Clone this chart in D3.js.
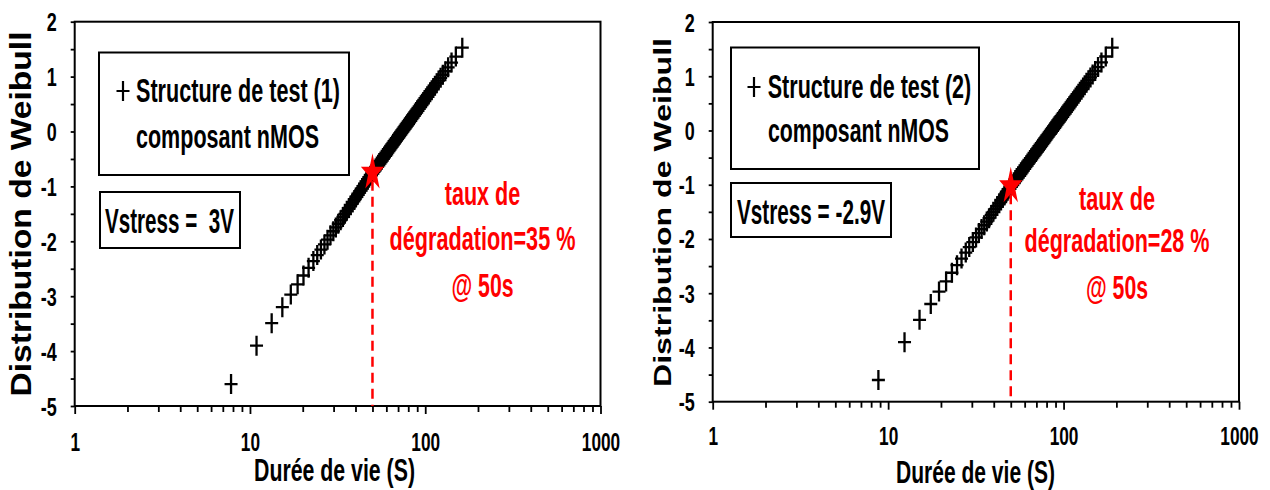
<!DOCTYPE html>
<html><head><meta charset="utf-8">
<script src="https://cdn.jsdelivr.net/npm/d3@7"></script>
<style>
html,body{margin:0;padding:0;background:#fff;}
svg{display:block;}
text{font-family:"Liberation Sans Narrow","Liberation Sans",Arial,sans-serif;font-weight:bold;white-space:pre;}
</style></head><body>
<svg id="chart" width="1270" height="490"></svg>
<script>
// ---------- data ----------
const xTickValues = [1, 10, 100, 1000];
const xTickLabels = ["1", "10", "100", "1000"];
const xMinorTicks = [2,3,4,5,6,7,8,9,20,30,40,50,60,70,80,90,200,300,400,500,600,700,800,900];
const yTickValues = [-5, -4, -3, -2, -1, 0, 1, 2];
const yTickLabels = ["-5", "-4", "-3", "-2", "-1", "0", "1", "2"];
const yMinorTicks = [-4.5, -3.5, -2.5, -1.5, -0.5, 0.5, 1.5];

// Weibull ordinate (same rank positions for both structures)
const weibullY = [-4.600,-3.902,-3.491,-3.199,-2.970,-2.783,-2.623,-2.484,-2.361,-2.250,
 -2.150,-2.057,-1.971,-1.892,-1.817,-1.747,-1.680,-1.617,-1.557,-1.500,
 -1.445,-1.392,-1.342,-1.293,-1.246,-1.200,-1.156,-1.113,-1.071,-1.031,
 -0.991,-0.953,-0.915,-0.878,-0.842,-0.807,-0.772,-0.738,-0.705,-0.672,
 -0.639,-0.607,-0.576,-0.545,-0.514,-0.484,-0.454,-0.425,-0.395,-0.367,
 -0.338,-0.309,-0.281,-0.253,-0.225,-0.197,-0.170,-0.142,-0.115,-0.087,
 -0.060,-0.033,-0.006,0.021,0.049,0.076,0.103,0.131,0.158,0.186,
 0.213,0.241,0.270,0.298,0.327,0.356,0.385,0.415,0.445,0.476,
 0.507,0.539,0.572,0.606,0.640,0.676,0.713,0.752,0.792,0.834,
 0.879,0.927,0.978,1.034,1.097,1.169,1.255,1.364,1.527];

// Lifetime (s) – structure 1 (Vstress = 3V)
const lifetime1 = [7.8,10.9,13.3,15.3,17.1,18.7,20.2,21.6,23.0,24.2,
 25.4,26.6,27.7,28.8,29.9,30.9,31.9,32.9,33.9,34.8,
 35.7,36.7,37.6,38.5,39.4,40.2,41.1,42.0,42.8,43.7,
 44.5,45.3,46.2,47.0,47.8,48.6,49.5,50.3,51.2,52.1,
 53.0,53.9,54.7,55.6,56.5,57.4,58.3,59.2,60.1,61.0,
 61.9,62.8,63.8,64.7,65.6,66.6,67.5,68.5,69.5,70.5,
 71.5,72.5,73.5,74.6,75.7,76.7,77.8,78.9,80.0,81.2,
 82.4,83.6,84.8,86.1,87.4,88.7,90.0,91.4,92.9,94.4,
 95.9,97.5,99.2,101.0,102.8,104.7,106.7,108.9,111.2,113.6,
 116.3,119.2,122.4,126.0,130.2,135.1,141.3,149.5,162.7];

// Lifetime (s) – structure 2 (Vstress = -2.9V)
const lifetime2 = [8.8,12.4,15.1,17.5,19.5,21.4,23.1,24.7,26.2,27.7,
 29.0,30.4,31.7,32.9,34.1,35.3,36.5,37.6,38.7,39.8,
 40.9,41.9,43.0,44.0,45.0,46.0,47.0,48.0,49.0,50.0,
 51.0,52.1,53.1,54.1,55.1,56.2,57.2,58.2,59.2,60.3,
 61.3,62.3,63.3,64.4,65.4,66.5,67.5,68.5,69.6,70.6,
 71.7,72.8,73.9,74.9,76.1,77.2,78.3,79.4,80.5,81.7,
 82.9,84.0,85.2,86.4,87.7,88.9,90.2,91.5,92.8,94.2,
 95.5,96.9,98.4,99.9,101.4,102.9,104.5,106.1,107.8,109.6,
 111.3,113.2,115.2,117.2,119.3,121.6,123.9,126.5,129.2,132.0,
 135.1,138.6,142.3,146.5,151.4,157.2,164.4,174.0,189.4];

const seriesNames = ["Structure de test (1)", "Structure de test (2)"];
const componentLabel = "composant nMOS";
const stressLabels = ["Vstress =  3V", "Vstress = -2.9V"];
const rateLines1 = ["taux de", "dégradation=35 %", "@ 50s"];
const rateLines2 = ["taux de", "dégradation=28 %", "@ 50s"];
const markerX = [50, 50];
const markerY = [-0.75, -1.03];
const xTitle = "Durée de vie (S)";
const yTitle = "Distribution de Weibull";

// ---------- layout ----------
const panels = [
  { x0: 74.7, x1: 600.5, yTop: 21.7, yBot: 406, life: lifetime1, name: seriesNames[0], stress: stressLabels[0],
    rate: rateLines1, mx: markerX[0], my: markerY[0],
    legBox: [99, 52.5, 250, 122.5], plus: [123, 91], l1: [136, 90, 204], l2: [136, 136, 183],
    vBox: [100, 192, 140, 56], vText: [105, 220, 129],
    red: { cx: 482.5, ys: [193, 238, 285], lens: [75.6, 186, 62] },
    yT: { x: 20.5, y: 214, len: 365, fs: 29 }, xT: { cx: 334.5, y: 470, len: 161 }, labOff: 36 },
  { x0: 712.7, x1: 1239, yTop: 22, yBot: 401.7, life: lifetime2, name: seriesNames[1], stress: stressLabels[1],
    rate: rateLines2, mx: markerX[1], my: markerY[1],
    legBox: [731, 47.5, 248, 121.5], plus: [754, 87], l1: [767.7, 86, 203.6], l2: [768, 130, 181],
    vBox: [731, 183, 160, 54], vText: [737, 211, 148],
    red: { cx: 1117, ys: [198, 240, 287], lens: [76, 185, 62] },
    yT: { x: 663, y: 212.5, len: 349, fs: 23 }, xT: { cx: 975.5, y: 472, len: 159 }, labOff: 34.5 }
];

const svg = d3.select("#chart");
const crossPath = "M-6.5,0H6.5M0,-10V10";
function starPath(R) {
  const r = R * 0.382, pts = [];
  for (let k = 0; k < 10; k++) {
    const a = -Math.PI / 2 + k * Math.PI / 5, rr = k % 2 ? r : R;
    pts.push([rr * Math.cos(a), rr * Math.sin(a)]);
  }
  return "M" + pts.map(p => p[0].toFixed(2) + "," + p[1].toFixed(2)).join("L") + "Z";
}
function fit(sel, len) { return sel.attr("textLength", len).attr("lengthAdjust", "spacingAndGlyphs"); }

panels.forEach(P => {
  const x = d3.scaleLog().domain([1, 1000]).range([P.x0, P.x1]);
  const y = d3.scaleLinear().domain([-5, 2]).range([P.yBot, P.yTop]);
  const g = svg.append("g");

  // minor x ticks
  g.append("g").attr("transform", `translate(0,${P.yBot})`)
    .call(d3.axisBottom(x).tickValues(xMinorTicks).tickSize(6).tickFormat(""))
    .call(a => a.select(".domain").remove())
    .call(a => a.selectAll("line").attr("stroke", "#000").attr("stroke-width", 1.8));
  // major x ticks + labels
  g.append("g").attr("transform", `translate(0,${P.yBot})`)
    .call(d3.axisBottom(x).tickValues(xTickValues).tickSize(8).tickFormat((d, i) => xTickLabels[i]))
    .call(a => a.select(".domain").remove())
    .call(a => a.selectAll("line").attr("stroke", "#000").attr("stroke-width", 1.8))
    .call(a => a.selectAll("text").attr("y", P.labOff).attr("dy", null)
      .attr("dominant-baseline", "central").attr("fill", "#000")
      .style("font-size", "25px").attr("font-family", null)
      .each(function(d, i) { fit(d3.select(this), 9.6 * xTickLabels[i].length); }));
  // y ticks
  g.append("g").attr("transform", `translate(${P.x0},0)`)
    .call(d3.axisLeft(y).tickValues(yMinorTicks).tickSize(4).tickFormat(""))
    .call(a => a.select(".domain").remove())
    .call(a => a.selectAll("line").attr("stroke", "#000").attr("stroke-width", 1.8));
  g.append("g").attr("transform", `translate(${P.x0},0)`)
    .call(d3.axisLeft(y).tickValues(yTickValues).tickSize(4).tickPadding(14).tickFormat((d, i) => yTickLabels[i]))
    .call(a => a.select(".domain").remove())
    .call(a => a.selectAll("line").attr("stroke", "#000").attr("stroke-width", 1.8))
    .call(a => a.selectAll("text").attr("dy", null).attr("dominant-baseline", "central")
      .attr("fill", "#000").style("font-size", "25px").attr("font-family", null)
      .each(function(d, i) { const s = yTickLabels[i]; fit(d3.select(this), s.startsWith("-") ? 6 + 10 * (s.length - 1) : 10 * s.length); }));

  // frame
  g.append("rect").attr("x", P.x0).attr("y", P.yTop).attr("width", P.x1 - P.x0).attr("height", P.yBot - P.yTop)
    .attr("fill", "none").attr("stroke", "#000").attr("stroke-width", 2);

  // data points
  g.append("g").selectAll("path").data(P.life).join("path")
    .attr("d", crossPath)
    .attr("transform", (d, i) => `translate(${x(d)},${y(weibullY[i])})`)
    .attr("stroke", "#000").attr("stroke-width", 2.3).attr("fill", "none");

  // dashed marker line + star
  g.append("line").attr("x1", x(P.mx)).attr("x2", x(P.mx)).attr("y1", y(P.my) + 8).attr("y2", P.yBot)
    .attr("stroke", "#ff0000").attr("stroke-width", 2.5).attr("stroke-dasharray", "10,6");
  g.append("path").attr("d", starPath(12.2))
    .attr("transform", `translate(${x(P.mx)},${y(P.my)}) scale(1,1.6)`).attr("fill", "#ff0000");

  // legend box
  g.append("rect").attr("x", P.legBox[0]).attr("y", P.legBox[1]).attr("width", P.legBox[2]).attr("height", P.legBox[3])
    .attr("fill", "#fff").attr("stroke", "#000").attr("stroke-width", 2);
  g.append("path").attr("d", crossPath).attr("transform", `translate(${P.plus[0]},${P.plus[1]})`)
    .attr("stroke", "#000").attr("stroke-width", 2.2).attr("fill", "none");
  fit(g.append("text").attr("x", P.l1[0]).attr("y", P.l1[1]).attr("dominant-baseline", "central")
    .style("font-size", "34px").text(P.name), P.l1[2]);
  fit(g.append("text").attr("x", P.l2[0]).attr("y", P.l2[1]).attr("dominant-baseline", "central")
    .style("font-size", "34px").text(componentLabel), P.l2[2]);

  // Vstress box
  g.append("rect").attr("x", P.vBox[0]).attr("y", P.vBox[1]).attr("width", P.vBox[2]).attr("height", P.vBox[3])
    .attr("fill", "#fff").attr("stroke", "#000").attr("stroke-width", 2);
  fit(g.append("text").attr("x", P.vText[0]).attr("y", P.vText[1]).attr("dominant-baseline", "central")
    .attr("xml:space", "preserve").style("font-size", "35px").text(P.stress), P.vText[2]);

  // red annotation
  P.rate.forEach((s, i) => {
    fit(g.append("text").attr("x", P.red.cx).attr("y", P.red.ys[i]).attr("text-anchor", "middle")
      .attr("dominant-baseline", "central").attr("fill", "#ff0000").style("font-size", "33px").text(s), P.red.lens[i]);
  });

  // axis titles
  fit(g.append("text").attr("x", P.xT.cx).attr("y", P.xT.y).attr("text-anchor", "middle")
    .attr("dominant-baseline", "central").style("font-size", "32px").text(xTitle), P.xT.len);
  fit(g.append("text").attr("transform", `translate(${P.yT.x},${P.yT.y}) rotate(-90)`)
    .attr("text-anchor", "middle").attr("dominant-baseline", "central")
    .style("font-family", "'Liberation Sans', Arial, sans-serif").style("font-size", P.yT.fs + "px")
    .text(yTitle), P.yT.len);
});
</script>
</body></html>
